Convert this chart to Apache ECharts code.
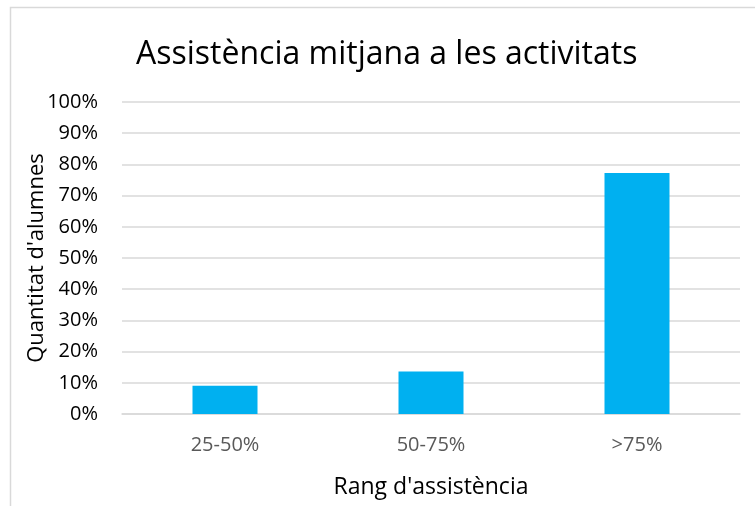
<!DOCTYPE html>
<html>
<head>
<meta charset="utf-8">
<script src="https://cdn.jsdelivr.net/npm/echarts@6/dist/echarts.min.js"></script>
<style>html,body{margin:0;padding:0;background:#fff}#c{width:755px;height:506px}</style>
</head>
<body>
<div id="c"></div>
<script>
const categories = ['25-50%', '50-75%', '>75%'];
const values = [9.09, 13.64, 77.27];
const chartTitle = 'Assistència mitjana a les activitats';
const yAxisName = "Quantitat d'alumnes";
const xAxisName = "Rang d'assistència";

const font = '"Open Sans", "Noto Sans", sans-serif';
const chart = echarts.init(document.getElementById('c'), null, {renderer: 'canvas'});
chart.setOption({
  animation: false,
  backgroundColor: '#fff',
  graphic: [{
    type: 'rect', left: 8, top: 5, z: -10,
    shape: {x: 0, y: 0, width: 800, height: 600},
    style: {fill: 'none', stroke: '#d9d9d9', lineWidth: 1.5}
  }],
  title: {
    text: chartTitle, left: 131, top: 34,
    textStyle: {fontFamily: font, fontSize: 32, fontWeight: 'normal', color: '#000'}
  },
  grid: {left: 122, right: 15, top: 102, bottom: 92, containLabel: false},
  xAxis: {
    type: 'category', data: categories,
    name: xAxisName, nameLocation: 'middle', nameGap: 62,
    nameTextStyle: {fontFamily: font, fontSize: 23, color: '#000'},
    axisLine: {show: true, lineStyle: {color: '#d9d9d9', width: 1.5}},
    axisTick: {show: false},
    axisLabel: {fontFamily: font, fontSize: 20, color: '#595959', margin: 21}
  },
  yAxis: {
    type: 'value', min: 0, max: 100, interval: 10,
    name: yAxisName, nameLocation: 'middle', nameGap: 74, nameMoveOverlap: false,
    nameTextStyle: {fontFamily: font, fontSize: 22, color: '#000'},
    axisLine: {show: false}, axisTick: {show: false},
    axisLabel: {fontFamily: font, fontSize: 20, color: '#000', margin: 24, formatter: '{value}%'},
    splitLine: {lineStyle: {color: '#d9d9d9', width: 1.5}}
  },
  series: [{
    type: 'bar', data: values, barWidth: 65,
    itemStyle: {color: '#00B0F0'}
  }]
});
</script>
</body>
</html>
